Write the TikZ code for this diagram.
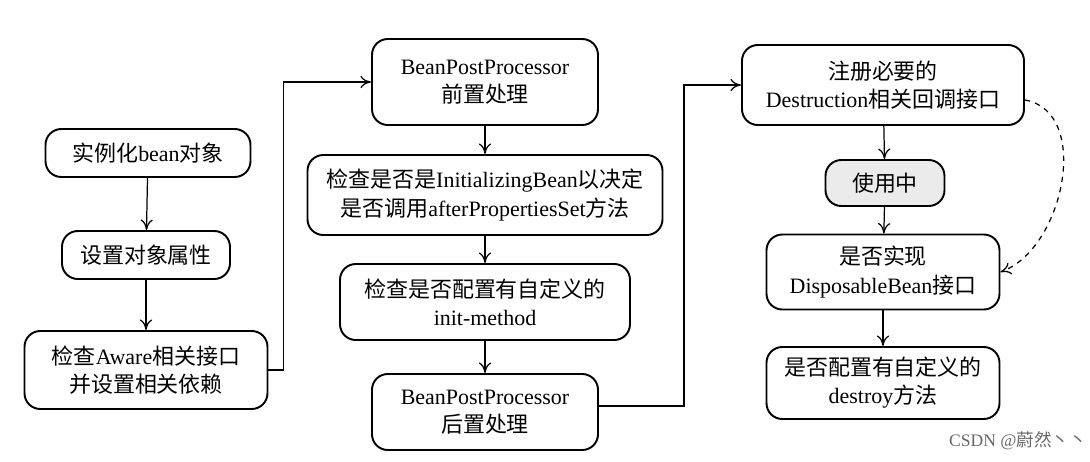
\documentclass[tikz,border=0pt]{standalone}
\usepackage{fontspec}
\setmainfont{Liberation Serif}
\newfontfamily\cjk{Noto Sans CJK SC}
\newcommand{\zh}[1]{{\cjk #1}}
\usetikzlibrary{arrows.meta}
\tikzset{
  box/.style={draw, line width=1.1pt, rounded corners=9pt, align=center, inner sep=2pt,
    font=\fontsize{12.5}{16}\selectfont},
  flow/.style={-{To[length=6pt,width=7pt]}, line width=0.7pt},
}
\begin{document}
\begin{tikzpicture}[x=0.02cm,y=-0.02cm]
\useasboundingbox (0,0) rectangle (1090,461);
% left column
\node[box, minimum width=205*0.02cm, minimum height=48*0.02cm] (inst) at (148,153) {\zh{实例化}bean\zh{对象}};
\node[box, minimum width=168*0.02cm, minimum height=48*0.02cm] (prop) at (146,255) {\zh{设置对象属性}};
\node[box, minimum width=243*0.02cm, minimum height=78*0.02cm] (aware) at (146,370) {\zh{检查}Aware\zh{相关接口}\\\zh{并设置相关依赖}};
% middle column
\node[box, minimum width=226*0.02cm, minimum height=86*0.02cm] (pre) at (485,82) {BeanPostProcessor\\\zh{前置处理}};
\node[box, minimum width=355*0.02cm, minimum height=80*0.02cm] (initb) at (485,195) {\zh{检查是否是}InitializingBean\zh{以决定}\\\zh{是否调用}afterPropertiesSet\zh{方法}};
\node[box, minimum width=290*0.02cm, minimum height=76*0.02cm] (initm) at (485,302) {\zh{检查是否配置有自定义的}\\init-method};
\node[box, minimum width=226*0.02cm, minimum height=76*0.02cm] (post) at (485,412) {BeanPostProcessor\\\zh{后置处理}};
% right column
\node[box, minimum width=282*0.02cm, minimum height=80*0.02cm] (reg) at (883,85) {\zh{注册必要的}\\Destruction\zh{相关回调接口}};
\node[box, fill=black!8, minimum width=119*0.02cm, minimum height=46*0.02cm] (use) at (885,183) {\zh{使用中}};
\node[box, minimum width=233*0.02cm, minimum height=75*0.02cm] (disp) at (883,272) {\zh{是否实现}\\DisposableBean\zh{接口}};
\node[box, minimum width=233*0.02cm, minimum height=72*0.02cm] (destroy) at (883,383) {\zh{是否配置有自定义的}\\destroy\zh{方法}};
% connectors
\draw[flow] (inst) -- (prop);
\draw[flow] (prop) -- (aware);
\draw[flow] (aware.east) -- ++(15,0) |- (pre.west);
\draw[flow] (pre) -- (initb);
\draw[flow] (initb) -- (initm);
\draw[flow] (initm) -- (post);
\draw[flow] (post.east) ++(0,-6) -- ++(85,0) |- (reg.west);
\draw[flow] (reg) -- (use);
\draw[flow] (use) -- (disp);
\draw[flow] (disp) -- (destroy);
\draw[flow, dashed] (reg.east) ++(0,15) to[out=-10, in=20] (disp.east);
\node[text=black!60, font=\fontsize{10}{12}\selectfont] (mark) at (1018,441) {CSDN @\zh{蔚然丶丶}};
\end{tikzpicture}
\end{document}
